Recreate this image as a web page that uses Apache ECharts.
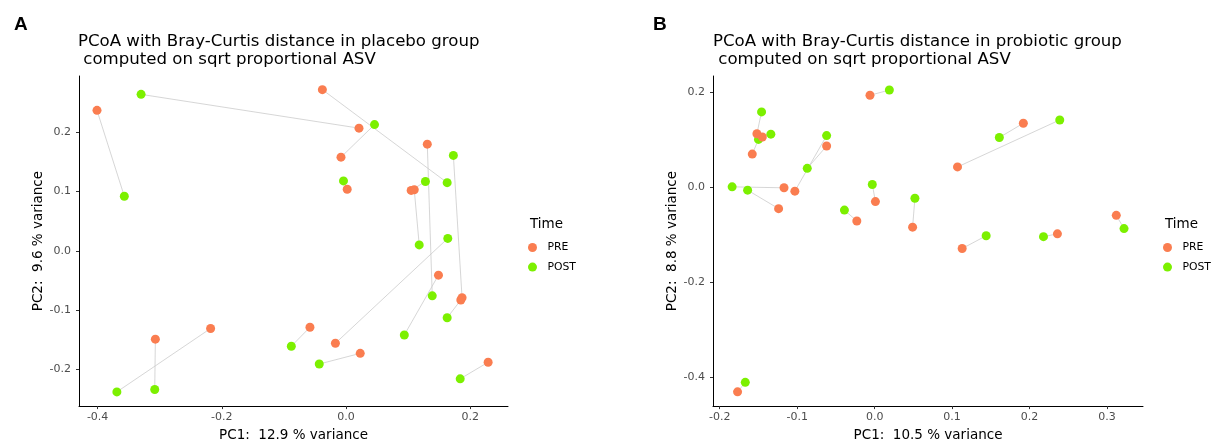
<!DOCTYPE html>
<html>
<head>
<meta charset="utf-8">
<script src="https://cdn.jsdelivr.net/npm/echarts@6/dist/echarts.min.js"></script>
<style>
  html, body { margin: 0; padding: 0; background: #fff; }
  #chart { width: 1215px; height: 447px; }
</style>
</head>
<body>
<div id="chart"></div>
<script>
// Panel A: placebo group. Same index = same subject (PRE and POST)
const placeboPreX  = [-0.401, 0.021, -0.038, -0.008, 0.002, 0.131, 0.105, 0.110, 0.149, 0.187, 0.185, -0.017, -0.058, 0.023, 0.229, -0.307, -0.218];
const placeboPreY  = [0.237, 0.207, 0.272, 0.158, 0.104, 0.180, 0.102, 0.103, -0.041, -0.079, -0.083, -0.156, -0.129, -0.173, -0.188, -0.149, -0.131];
const placeboPostX = [-0.357, -0.330, 0.163, 0.046, -0.004, 0.139, 0.128, 0.118, 0.094, 0.173, 0.163, 0.164, -0.088, -0.043, 0.184, -0.308, -0.369];
const placeboPostY = [0.092, 0.264, 0.115, 0.213, 0.118, -0.076, 0.117, 0.010, -0.142, 0.161, -0.113, 0.021, -0.161, -0.191, -0.216, -0.234, -0.238];

// Panel B: probiotic group
const probioticPreX  = [-0.006, -0.152, -0.145, -0.158, -0.062, -0.103, -0.117, -0.124, 0.001, -0.023, 0.049, 0.192, 0.107, 0.312, 0.113, 0.236, -0.177];
const probioticPreY  = [0.194, 0.113, 0.106, 0.070, 0.087, -0.008, -0.001, -0.045, -0.030, -0.071, -0.084, 0.135, 0.043, -0.059, -0.129, -0.098, -0.431];
const probioticPostX = [0.019, -0.146, -0.134, -0.150, -0.087, -0.062, -0.184, -0.164, -0.003, -0.039, 0.052, 0.161, 0.239, 0.322, 0.144, 0.218, -0.167];
const probioticPostY = [0.205, 0.159, 0.112, 0.101, 0.040, 0.109, 0.001, -0.006, 0.006, -0.048, -0.023, 0.105, 0.142, -0.087, -0.102, -0.104, -0.411];

// tick labels
const placeboXTicks = [-0.4, -0.2, 0.0, 0.2];
const placeboYTicks = [-0.2, -0.1, 0.0, 0.1, 0.2];
const probioticXTicks = [-0.2, -0.1, 0.0, 0.1, 0.2, 0.3];
const probioticYTicks = [-0.4, -0.2, 0.0, 0.2];

const timeLevels = ["PRE", "POST"];
const titles = [
    "PCoA with Bray-Curtis distance in placebo group\n computed on sqrt proportional ASV",
    "PCoA with Bray-Curtis distance in probiotic group\n computed on sqrt proportional ASV",
];
const xNames = ["PC1:  12.9 % variance", "PC1:  10.5 % variance"];
const yNames = ["PC2:  9.6 % variance", "PC2:  8.8 % variance"];

const PRE_COLOR = "#FA7D50";
const POST_COLOR = "#7CF000";
const FONT = "DejaVu Sans";

const zip = (xs, ys) => xs.map((x, i) => [x, ys[i]]);

function makeXAxis(gridIndex, min, max, ticks, name) {
    return {
        type: "value",
        gridIndex,
        min,
        max,
        name,
        nameLocation: "middle",
        nameGap: 19,
        nameTextStyle: { fontFamily: FONT, fontSize: 13.5, color: "#000" },
        axisLine: { show: true, onZero: false, lineStyle: { color: "#000", width: 1 } },
        axisTick: { show: true, length: 3, customValues: ticks, lineStyle: { color: "#333" } },
        axisLabel: {
            customValues: ticks,
            formatter: (v) => v.toFixed(1),
            fontFamily: FONT,
            fontSize: 11,
            color: "#4d4d4d",
            margin: 6,
        },
        splitLine: { show: false },
    };
}

function makeYAxis(gridIndex, min, max, ticks, name) {
    return {
        type: "value",
        gridIndex,
        min,
        max,
        name,
        nameLocation: "middle",
        nameGap: 30,
        nameTextStyle: { fontFamily: FONT, fontSize: 13.5, color: "#000" },
        axisLine: { show: true, onZero: false, lineStyle: { color: "#000", width: 1 } },
        axisTick: { show: true, length: 3, customValues: ticks, lineStyle: { color: "#333" } },
        axisLabel: {
            customValues: ticks,
            formatter: (v) => v.toFixed(1),
            fontFamily: FONT,
            fontSize: 11,
            color: "#4d4d4d",
            margin: 8,
        },
        splitLine: { show: false },
    };
}

// grey segment joining PRE and POST of each subject
function pairLines(idx, preX, preY, postX, postY) {
    return preX.map((x, i) => ({
        type: "line",
        xAxisIndex: idx,
        yAxisIndex: idx,
        data: [[x, preY[i]], [postX[i], postY[i]]],
        symbol: "none",
        silent: true,
        lineStyle: { color: "#cccccc", width: 0.8 },
        z: 1,
    }));
}

function points(idx, name, xs, ys, color, z) {
    return {
        type: "scatter",
        name,
        xAxisIndex: idx,
        yAxisIndex: idx,
        data: zip(xs, ys),
        symbol: "circle",
        symbolSize: 9,
        itemStyle: { color, opacity: 1 },
        z,
    };
}

function legendAt(left, top) {
    return {
        orient: "vertical",
        left,
        top,
        padding: 0,
        itemWidth: 20,
        itemHeight: 9,
        itemGap: 8.6,
        selectedMode: false,
        data: timeLevels.map((n) => ({ name: n, icon: "circle" })),
        textStyle: { fontFamily: FONT, fontSize: 10.8, color: "#000" },
    };
}

const chart = echarts.init(document.getElementById("chart"));

const option = {
    animation: false,
    backgroundColor: "#fff",
    title: [
        { text: "A", left: 14, top: 15, padding: 0, textStyle: { fontFamily: "Liberation Sans", fontSize: 19, fontWeight: "bold", color: "#000" } },
        { text: "B", left: 653, top: 15, padding: 0, textStyle: { fontFamily: "Liberation Sans", fontSize: 19, fontWeight: "bold", color: "#000" } },
        { text: titles[0], left: 78, top: 32, padding: 0, textStyle: { fontFamily: FONT, fontSize: 16.6, fontWeight: "normal", lineHeight: 18.5, color: "#000" } },
        { text: titles[1], left: 713, top: 32, padding: 0, textStyle: { fontFamily: FONT, fontSize: 16.6, fontWeight: "normal", lineHeight: 18.5, color: "#000" } },
        { text: "Time", left: 530, top: 217, padding: 0, textStyle: { fontFamily: FONT, fontSize: 13.5, fontWeight: "normal", color: "#000" } },
        { text: "Time", left: 1165, top: 217, padding: 0, textStyle: { fontFamily: FONT, fontSize: 13.5, fontWeight: "normal", color: "#000" } },
    ],
    legend: [legendAt(528, 242), legendAt(1163, 242)],
    grid: [
        { left: 79, top: 76, width: 429, height: 338 },
        { left: 713, top: 76, width: 430, height: 338 },
    ],
    xAxis: [
        makeXAxis(0, -0.430, 0.261, placeboXTicks, xNames[0]),
        makeXAxis(1, -0.2087, 0.3465, probioticXTicks, xNames[1]),
    ],
    yAxis: [
        makeYAxis(0, -0.262, 0.295, placeboYTicks, yNames[0]),
        makeYAxis(1, -0.461, 0.2346, probioticYTicks, yNames[1]),
    ],
    series: [
        ...pairLines(0, placeboPreX, placeboPreY, placeboPostX, placeboPostY),
        ...pairLines(1, probioticPreX, probioticPreY, probioticPostX, probioticPostY),
        points(0, "POST", placeboPostX, placeboPostY, POST_COLOR, 2),
        points(0, "PRE", placeboPreX, placeboPreY, PRE_COLOR, 3),
        points(1, "POST", probioticPostX, probioticPostY, POST_COLOR, 2),
        points(1, "PRE", probioticPreX, probioticPreY, PRE_COLOR, 3),
    ],
};

chart.setOption(option);
</script>
</body>
</html>
